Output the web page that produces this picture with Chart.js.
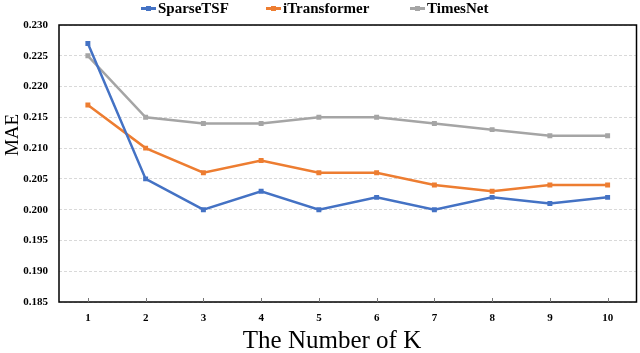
<!DOCTYPE html>
<html>
<head>
<meta charset="utf-8">
<script src="https://cdn.jsdelivr.net/npm/chart.js@4.4.1/dist/chart.umd.min.js"></script>
<style>
  html, body { margin: 0; padding: 0; background: #fff; }
  #wrap { position: relative; width: 640px; height: 353px; }
  canvas { position: absolute; left: 0; top: 0; }
  .lg { position: absolute; top: 0px; font-family: "Liberation Serif", "Times New Roman", serif; font-weight: bold; font-size: 15px; line-height: 17px; color: #000; white-space: nowrap; }
  .mk { display: inline-block; position: relative; width: 15px; height: 17px; vertical-align: top; margin-right: 2px; }
  .mk i { position: absolute; left: 0; top: 7px; width: 15px; height: 2.5px; }
  .mk b { position: absolute; left: 5px; top: 5.5px; width: 5px; height: 5px; }
  .ttl { position: absolute; font-family: "Liberation Serif", "Times New Roman", serif; color: #000; white-space: nowrap; }
  #xt { left: 232px; width: 200px; text-align: center; top: 325px; font-size: 25px; line-height: 30px; }
  #yt { left: -38px; width: 100px; text-align: center; top: 124px; font-size: 19px; line-height: 22px; transform: rotate(-90deg); }
</style>
</head>
<body>
<div id="wrap">
  <canvas id="c" width="640" height="353"></canvas>
  <div class="lg" style="left:141px"><span class="mk"><i style="background:#4472C4"></i><b style="background:#4472C4"></b></span>SparseTSF</div>
  <div class="lg" style="left:266px"><span class="mk"><i style="background:#ED7D31"></i><b style="background:#ED7D31"></b></span>iTransformer</div>
  <div class="lg" style="left:410px"><span class="mk"><i style="background:#A5A5A5"></i><b style="background:#A5A5A5"></b></span>TimesNet</div>
  <div class="ttl" id="xt">The Number of K</div>
  <div class="ttl" id="yt">MAE</div>
</div>
<script>
const categories = ["1","2","3","4","5","6","7","8","9","10"];
const sparseTSF = [0.227, 0.205, 0.200, 0.203, 0.200, 0.202, 0.200, 0.202, 0.201, 0.202];
const iTransformer = [0.217, 0.210, 0.206, 0.208, 0.206, 0.206, 0.204, 0.203, 0.204, 0.204];
const timesNet = [0.225, 0.215, 0.214, 0.214, 0.215, 0.215, 0.214, 0.213, 0.212, 0.212];
const yMin = 0.185, yMax = 0.230, yStep = 0.005;

const boxPlugin = {
  id: 'box',
  beforeDatasetsDraw(chart) {
    const { ctx, chartArea: a, scales } = chart;
    ctx.save();
    ctx.strokeStyle = '#000';
    ctx.lineWidth = 1.5;
    ctx.strokeRect(a.left, a.top, a.right - a.left, a.bottom - a.top);
    ctx.strokeStyle = '#777';
    ctx.lineWidth = 1;
    const xs = scales.x;
    categories.forEach((c, i) => {
      const px = Math.round(xs.getPixelForValue(i)) + 0.5;
      ctx.beginPath();
      ctx.moveTo(px, a.bottom);
      ctx.lineTo(px, a.bottom - 4);
      ctx.stroke();
    });
    ctx.restore();
  }
};

function ds(label, data, color, order) {
  return {
    label, data, borderColor: color, backgroundColor: color,
    borderWidth: 2.5, pointStyle: 'rect', pointRadius: 3.5, pointHoverRadius: 3.5,
    pointBorderWidth: 0, tension: 0, order
  };
}

new Chart(document.getElementById('c'), {
  type: 'line',
  data: {
    labels: categories,
    datasets: [
      ds('SparseTSF', sparseTSF, '#4472C4', 1),
      ds('iTransformer', iTransformer, '#ED7D31', 2),
      ds('TimesNet', timesNet, '#A5A5A5', 3)
    ]
  },
  options: {
    responsive: false,
    animation: false,
    devicePixelRatio: 1,
    layout: { padding: { top: 25, right: 1, left: 0, bottom: 0 } },
    plugins: { legend: { display: false }, tooltip: { enabled: false } },
    scales: {
      x: {
        offset: true,
        grid: { display: false, drawTicks: false },
        border: { display: false },
        ticks: { color: '#000', padding: 10, font: { family: 'Liberation Serif', weight: 'bold', size: 11 } },
        afterFit(s) { s.height = 51; }
      },
      y: {
        min: yMin, max: yMax,
        ticks: { stepSize: yStep, color: '#000', padding: 11, callback: v => v.toFixed(3), font: { family: 'Liberation Serif', weight: 'bold', size: 11 } },
        grid: { color: '#d9d9d9', lineWidth: 1, drawTicks: false },
        border: { display: false, dash: [3, 2] },
        afterFit(s) { s.width = 59; }
      }
    }
  },
  plugins: [boxPlugin]
});
</script>
</body>
</html>
